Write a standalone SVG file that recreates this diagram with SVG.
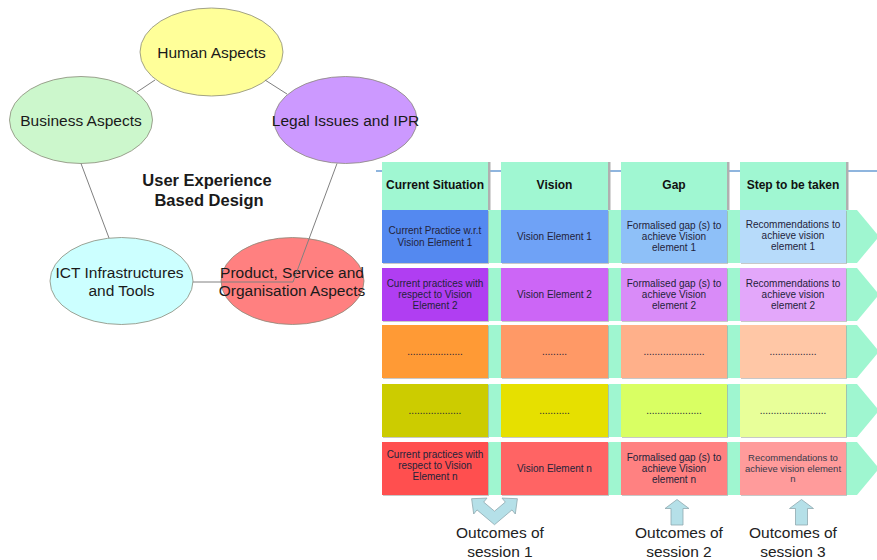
<svg xmlns="http://www.w3.org/2000/svg" width="877" height="560" viewBox="0 0 877 560">
<style>
  text { font-family: "Liberation Sans", Arial, sans-serif; fill: #1a1a1a; }
  .el { stroke: #8a8a7a; stroke-width: 0.8; }
  .lbl { font-size: 15.5px; text-anchor: middle; }
  .title { font-size: 16.5px; font-weight: bold; text-anchor: middle; }
  .conn { stroke: #808080; stroke-width: 1; fill: none; }
  .band { fill: #9ff6d0; }
  .hdr { fill: #a0f7d2; }
  .hsh { fill: #b0b0b0; }
  .hdrt { font-size: 12px; font-weight: bold; text-anchor: middle; fill: #111; }
  .ct { font-size: 10px; text-anchor: middle; fill: #23233a; }
  .cts { font-size: 9.5px; text-anchor: middle; fill: #3a3a4a; }
  .csh { fill: #9a9a9a; opacity: 0.55; }
  .out { font-size: 15.5px; text-anchor: middle; fill: #222; }
  .arr { fill: #b5e0e8; stroke: #8fa8ae; stroke-width: 0.8; }
</style>

<!-- left concept diagram -->
<g id="ellipses">
  <g id="human"><ellipse class="el" cx="211.5" cy="52" rx="71.5" ry="44" fill="#ffff99"/><text class="lbl" x="211.5" y="57.5">Human Aspects</text></g>
  <g id="business"><ellipse class="el" cx="81" cy="120" rx="71.5" ry="43.5" fill="#ccf7cc"/><text class="lbl" x="81" y="125.5">Business Aspects</text></g>
  <g id="legal"><ellipse class="el" cx="345.5" cy="120" rx="71.5" ry="43.5" fill="#cc99ff"/><text class="lbl" x="345.5" y="125.5">Legal Issues and IPR</text></g>
  <g id="ict"><ellipse class="el" cx="121.5" cy="281" rx="71.5" ry="43.5" fill="#ccffff"/><text class="lbl" x="119.5" y="278">ICT Infrastructures</text><text class="lbl" x="121.5" y="296">and Tools</text></g>
  <g id="product"><ellipse class="el" cx="292.5" cy="281" rx="71.5" ry="43.5" fill="#ff8080"/><text class="lbl" x="292" y="278">Product, Service and</text><text class="lbl" x="292" y="296">Organisation Aspects</text></g>
</g>
<g id="connectors">
  <line class="conn" x1="137" y1="92" x2="155" y2="80"/>
  <line class="conn" x1="265" y1="80" x2="287" y2="94"/>
  <line class="conn" x1="81" y1="163.5" x2="109" y2="238"/>
  <line class="conn" x1="337" y1="163.5" x2="293" y2="282"/>
  <line class="conn" x1="193" y1="282" x2="293" y2="282"/>
</g>
<g id="center-title">
  <text class="title" x="207" y="186">User Experience</text>
  <text class="title" x="209" y="205.5">Based Design</text>
</g>

<!-- table -->
<line id="header-line" x1="376" y1="171" x2="877" y2="171" stroke="#8fb5de" stroke-width="2"/>
<g id="headers">
  <g id="h1"><rect class="hsh" x="488" y="162" width="2.5" height="48"/><rect class="hdr" x="382" y="162" width="106" height="48"/><text class="hdrt" x="435" y="189">Current Situation</text></g>
  <g id="h2"><rect class="hsh" x="608" y="162" width="2.5" height="48"/><rect class="hdr" x="501" y="162" width="107" height="48"/><text class="hdrt" x="554.5" y="189">Vision</text></g>
  <g id="h3"><rect class="hsh" x="727" y="162" width="2.5" height="48"/><rect class="hdr" x="621" y="162" width="106" height="48"/><text class="hdrt" x="674" y="189">Gap</text></g>
  <g id="h4"><rect class="hsh" x="846" y="162" width="2.5" height="48"/><rect class="hdr" x="740" y="162" width="106" height="48"/><text class="hdrt" x="793" y="189">Step to be taken</text></g>
</g>

<g id="row-bands">
  <polygon class="band" points="382,210 857,210 879,236.5 857,263 382,263"/>
  <polygon class="band" points="382,268 857,268 879,294.5 857,321 382,321"/>
  <polygon class="band" points="382,325 857,325 879,351.5 857,378 382,378"/>
  <polygon class="band" points="382,384 857,384 879,410.5 857,437 382,437"/>
  <polygon class="band" points="382,442 857,442 879,468.5 857,495 382,495"/>
</g>

<g id="row1">
  <g id="r1c1"><rect class="csh" x="383" y="211" width="106" height="53"/><rect x="382" y="210" width="106" height="53" fill="#5489f0"/><text class="ct" x="435" y="234.4">Current Practice w.r.t</text><text class="ct" x="435" y="245.6">Vision Element 1</text></g>
  <g id="r1c2"><rect class="csh" x="502" y="211" width="107" height="53"/><rect x="501" y="210" width="107" height="53" fill="#6fa2f6"/><text class="ct" x="554.5" y="240">Vision Element 1</text></g>
  <g id="r1c3"><rect class="csh" x="622" y="211" width="106" height="53"/><rect x="621" y="210" width="106" height="53" fill="#8ec0f8"/><text class="ct" x="674" y="228.8">Formalised gap (s) to</text><text class="ct" x="674" y="240">achieve Vision</text><text class="ct" x="674" y="251.2">element 1</text></g>
  <g id="r1c4"><rect class="csh" x="741" y="211" width="106" height="53"/><rect x="740" y="210" width="106" height="53" fill="#b7dbfa"/><text class="ct" x="793" y="227.8">Recommendations to</text><text class="ct" x="793" y="239">achieve vision</text><text class="ct" x="793" y="250.2">element 1</text></g>
</g>
<g id="row2">
  <g id="r2c1"><rect class="csh" x="383" y="269" width="106" height="53"/><rect x="382" y="268" width="106" height="53" fill="#b03ef2"/><text class="ct" x="435" y="286.8">Current practices with</text><text class="ct" x="435" y="298">respect to Vision</text><text class="ct" x="435" y="309.2">Element 2</text></g>
  <g id="r2c2"><rect class="csh" x="502" y="269" width="107" height="53"/><rect x="501" y="268" width="107" height="53" fill="#cc66f6"/><text class="ct" x="554.5" y="298">Vision Element 2</text></g>
  <g id="r2c3"><rect class="csh" x="622" y="269" width="106" height="53"/><rect x="621" y="268" width="106" height="53" fill="#d98bf8"/><text class="ct" x="674" y="286.8">Formalised gap (s) to</text><text class="ct" x="674" y="298">achieve Vision</text><text class="ct" x="674" y="309.2">element 2</text></g>
  <g id="r2c4"><rect class="csh" x="741" y="269" width="106" height="53"/><rect x="740" y="268" width="106" height="53" fill="#e3a7fa"/><text class="ct" x="793" y="286.8">Recommendations to</text><text class="ct" x="793" y="298">achieve vision</text><text class="ct" x="793" y="309.2">element 2</text></g>
</g>
<g id="row3">
  <g id="r3c1"><rect class="csh" x="383" y="326" width="106" height="53"/><rect x="382" y="325" width="106" height="53" fill="#ff9a35"/><text class="ct" x="435" y="355">....................</text></g>
  <g id="r3c2"><rect class="csh" x="502" y="326" width="107" height="53"/><rect x="501" y="325" width="107" height="53" fill="#ff9966"/><text class="ct" x="554.5" y="355">.........</text></g>
  <g id="r3c3"><rect class="csh" x="622" y="326" width="106" height="53"/><rect x="621" y="325" width="106" height="53" fill="#ffb08a"/><text class="ct" x="674" y="355">......................</text></g>
  <g id="r3c4"><rect class="csh" x="741" y="326" width="106" height="53"/><rect x="740" y="325" width="106" height="53" fill="#ffc7a6"/><text class="ct" x="793" y="355">.................</text></g>
</g>
<g id="row4">
  <g id="r4c1"><rect class="csh" x="383" y="385" width="106" height="53"/><rect x="382" y="384" width="106" height="53" fill="#cccc00"/><text class="ct" x="435" y="413.5">...................</text></g>
  <g id="r4c2"><rect class="csh" x="502" y="385" width="107" height="53"/><rect x="501" y="384" width="107" height="53" fill="#e6e000"/><text class="ct" x="554.5" y="413.5">...........</text></g>
  <g id="r4c3"><rect class="csh" x="622" y="385" width="106" height="53"/><rect x="621" y="384" width="106" height="53" fill="#d9ff63"/><text class="ct" x="674" y="413.5" fill="#6a6a50">....................</text></g>
  <g id="r4c4"><rect class="csh" x="741" y="385" width="106" height="53"/><rect x="740" y="384" width="106" height="53" fill="#e8ff99"/><text class="ct" x="793" y="413.5">........................</text></g>
</g>
<g id="row5">
  <g id="r5c1"><rect class="csh" x="383" y="443" width="106" height="53"/><rect x="382" y="442" width="106" height="53" fill="#ff4f4f"/><text class="ct" x="435" y="457.8">Current practices with</text><text class="ct" x="435" y="469">respect to Vision</text><text class="ct" x="435" y="480.2">Element n</text></g>
  <g id="r5c2"><rect class="csh" x="502" y="443" width="107" height="53"/><rect x="501" y="442" width="107" height="53" fill="#ff6464"/><text class="ct" x="554.5" y="472">Vision Element n</text></g>
  <g id="r5c3"><rect class="csh" x="622" y="443" width="106" height="53"/><rect x="621" y="442" width="106" height="53" fill="#ff8181"/><text class="ct" x="674" y="460.8">Formalised gap (s) to</text><text class="ct" x="674" y="472">achieve Vision</text><text class="ct" x="674" y="483.2">element n</text></g>
  <g id="r5c4"><rect class="csh" x="741" y="443" width="106" height="53"/><rect x="740" y="442" width="106" height="53" fill="#ff9b9b"/><text class="cts" x="793" y="461.2">Recommendations to</text><text class="cts" x="793" y="471.8">achieve vision element</text><text class="cts" x="793" y="482.4">n</text></g>
</g>

<!-- outcome arrows -->
<g id="outcome1">
  <polygon class="arr" points="471.6,498.7 487,498.1 483.7,502.1 494.5,511.2 505.3,502.1 502,498.1 517.4,498.7 515.3,514 512,509.9 494.5,524.7 477,509.9 473.7,514"/>
  <text class="out" x="500" y="538">Outcomes of</text>
  <text class="out" x="500" y="556.5">session 1</text>
</g>
<g id="outcome2">
  <polygon class="arr" points="677,499.5 689,508.5 683,508.5 683,525 671,525 671,508.5 665,508.5"/>
  <text class="out" x="679" y="538">Outcomes of</text>
  <text class="out" x="679" y="556.5">session 2</text>
</g>
<g id="outcome3">
  <polygon class="arr" points="801.5,499.5 813.5,508.5 807.5,508.5 807.5,525 795.5,525 795.5,508.5 789.5,508.5"/>
  <text class="out" x="793" y="538">Outcomes of</text>
  <text class="out" x="793" y="556.5">session 3</text>
</g>
</svg>
